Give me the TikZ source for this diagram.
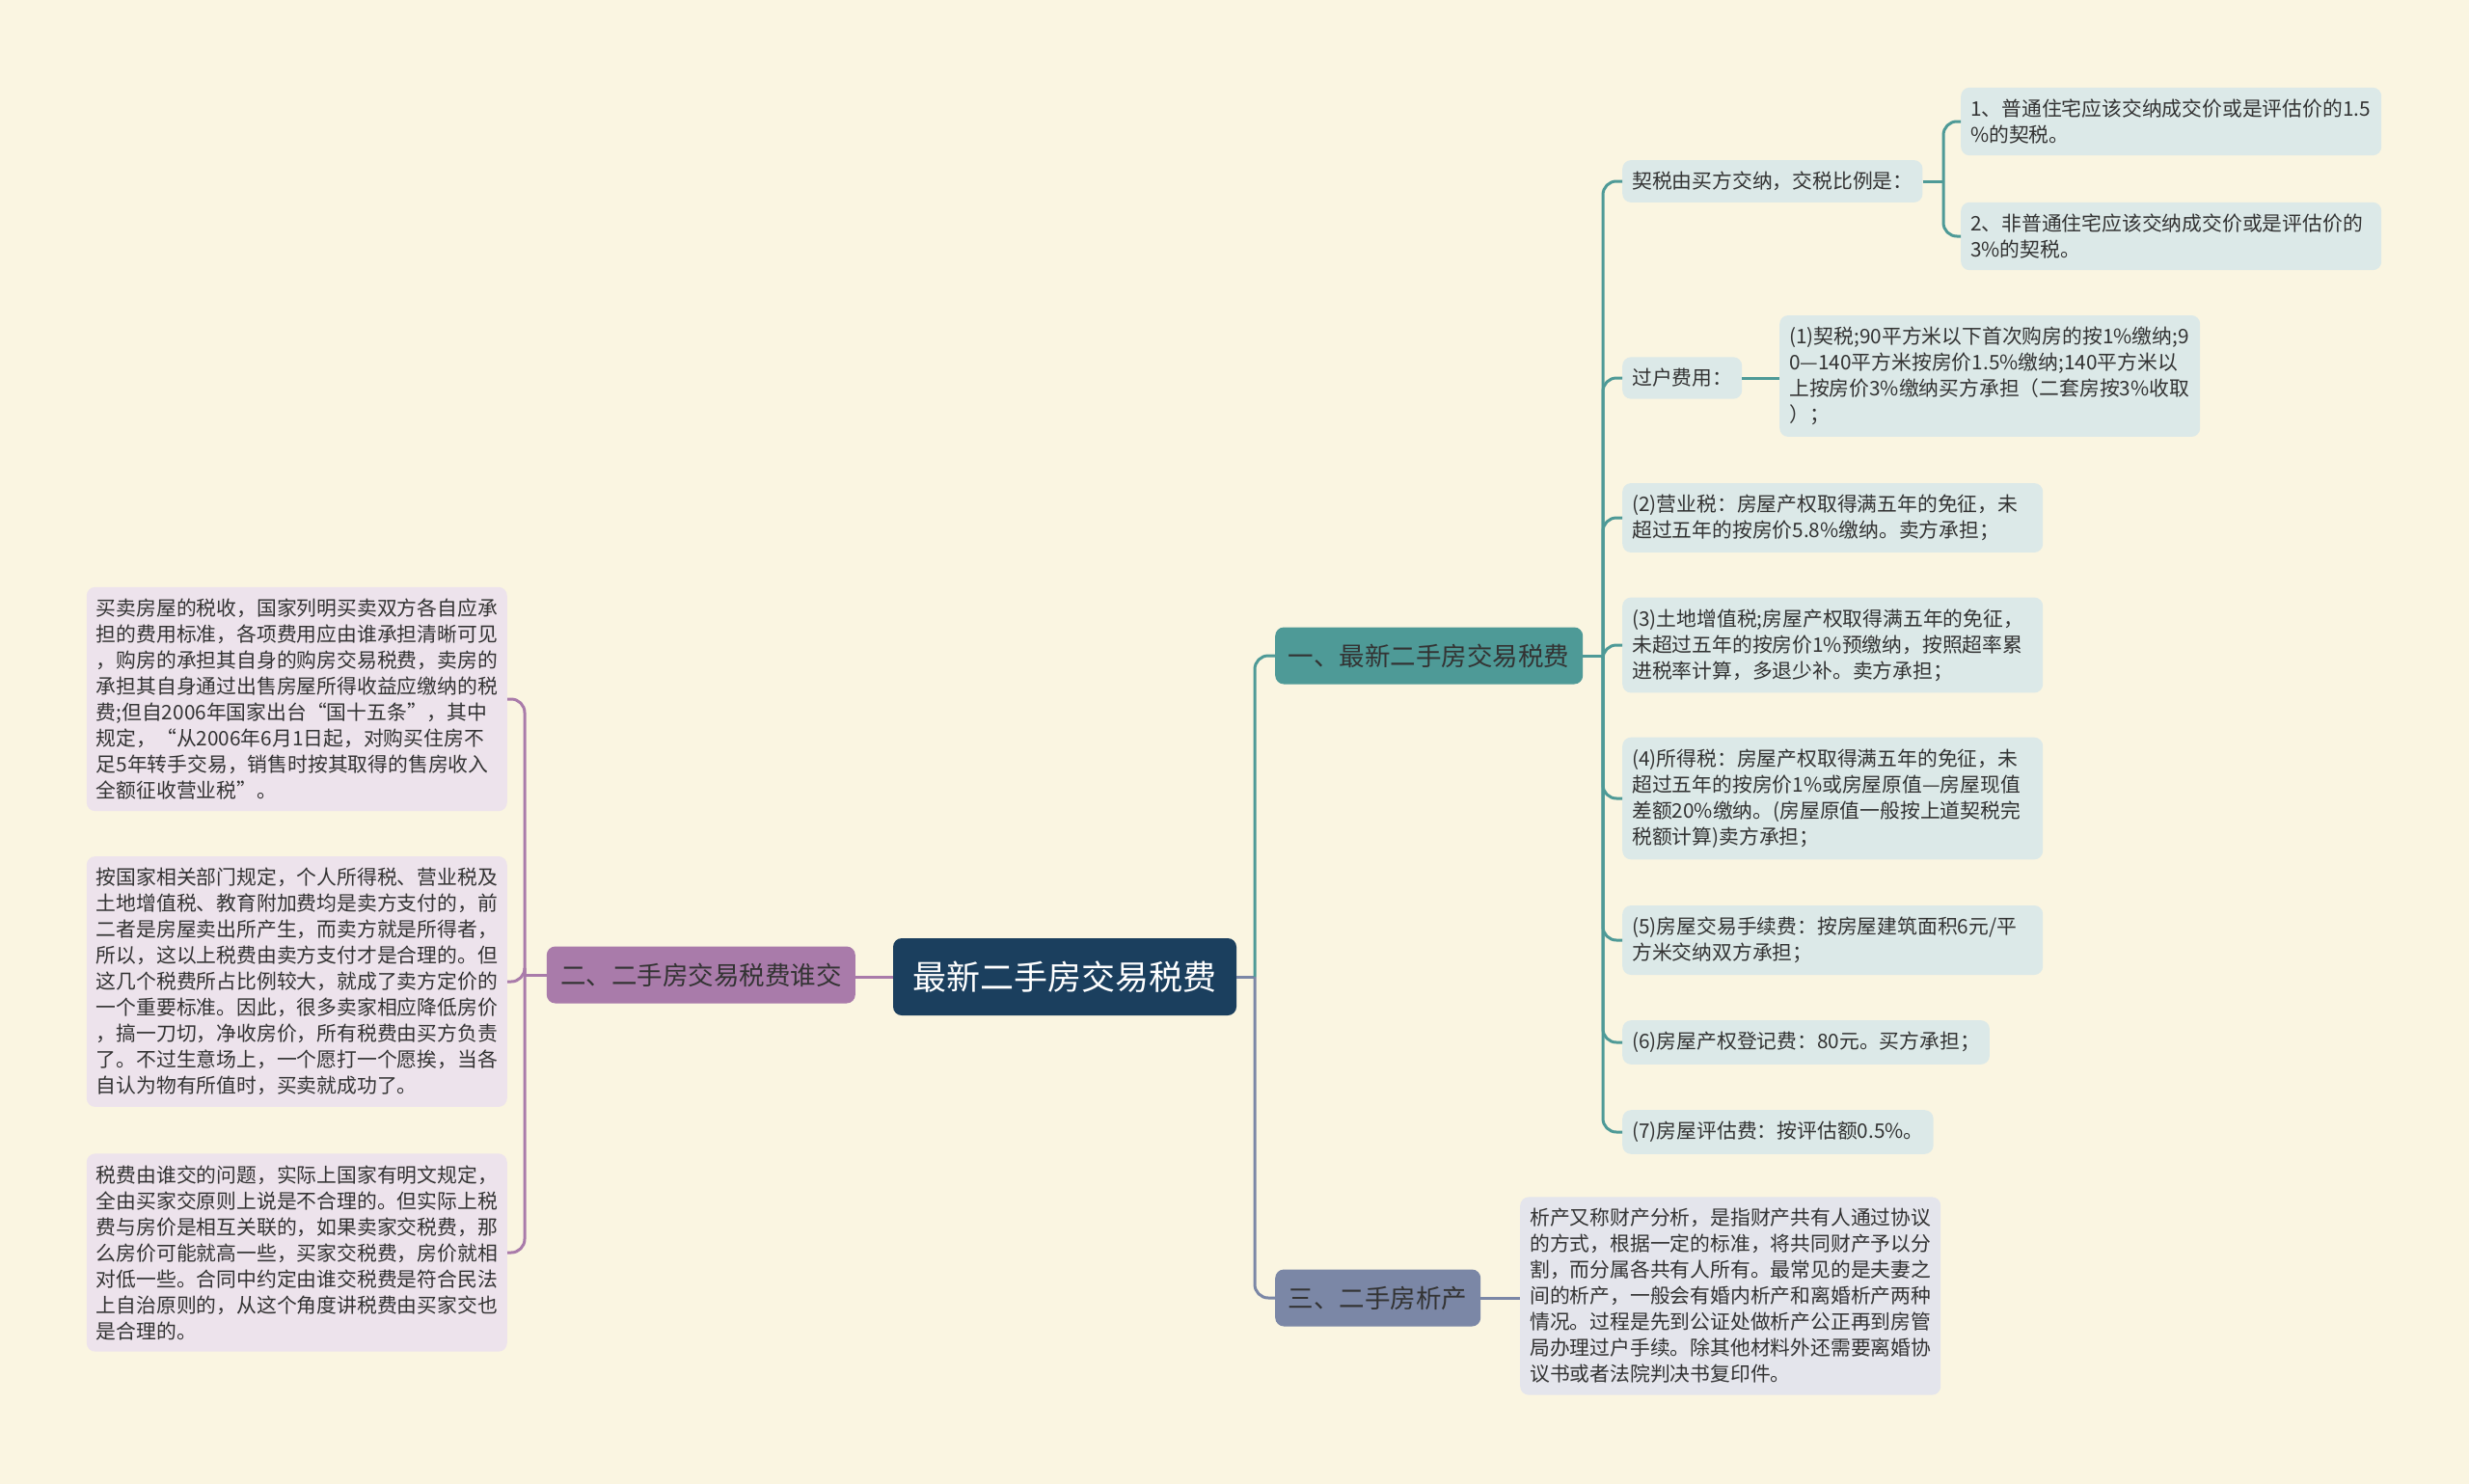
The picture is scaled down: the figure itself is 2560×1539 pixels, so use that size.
\documentclass[tikz,border=0pt]{standalone}
\usepackage{fontspec}
\newfontfamily\cjk{Noto Sans CJK SC}
\usepackage{tikz}

\definecolor{bgcol}{HTML}{FAF5E1}
\definecolor{rootcol}{HTML}{1B3F5E}
\definecolor{tealcol}{HTML}{4E9A97}
\definecolor{plumcol}{HTML}{A97BAA}
\definecolor{slatecol}{HTML}{7B87A6}
\definecolor{leafblue}{HTML}{DCE9E8}
\definecolor{leafplum}{HTML}{EDE3EC}
\definecolor{leafslate}{HTML}{E4E5EC}
\definecolor{inkcol}{HTML}{333333}

\tikzset{
  root/.style={rounded corners=9pt, fill=rootcol, text=white, font=\cjk\fontsize{35}{40}\selectfont, minimum width=356pt, minimum height=80pt},
  branch/.style={rounded corners=9pt, text=inkcol, font=\cjk\fontsize{26.5}{30}\selectfont, minimum height=59pt},
  leaf/.style={rounded corners=9pt, fill=leafblue, text=inkcol, font=\cjk\fontsize{20.8}{27}\selectfont, align=left, inner xsep=10pt, inner ysep=12pt},
  wideleaf/.style={leaf, text width=416pt},
  link/.style={line width=3pt, rounded corners=14pt}
}

\begin{document}
\begin{tikzpicture}[x=1pt,y=-1pt]
\useasboundingbox (0,0) rectangle (2560,1539);
\fill[bgcol] (0,0) rectangle (2560,1539);

\node[root] (root) at (1104,1013) {最新二手房交易税费};

\node[branch, fill=tealcol, minimum width=319pt, anchor=west] (fees) at (1322,680) {一、最新二手房交易税费};
\node[branch, fill=plumcol, minimum width=320pt, anchor=east] (who) at (887,1011) {二、二手房交易税费谁交};
\node[branch, fill=slatecol, minimum width=213pt, anchor=west] (split) at (1322,1346) {三、二手房析产};

% first branch
\node[leaf, anchor=west] (deed) at (1682,188) {契税由买方交纳，交税比例是：};
\node[wideleaf, anchor=west] (deedA) at (2033,126) {1、普通住宅应该交纳成交价或是评估价的1.5\\\%的契税。};
\node[wideleaf, anchor=west] (deedB) at (2033,245) {2、非普通住宅应该交纳成交价或是评估价的\\3\%的契税。};
\node[leaf, anchor=west] (transfer) at (1682,392) {过户费用：};
\node[wideleaf, anchor=west] (transferA) at (1845,390) {(1)契税;90平方米以下首次购房的按1\%缴纳;9\\0—140平方米按房价1.5\%缴纳;140平方米以\\上按房价3\%缴纳买方承担（二套房按3\%收取\\）；};
\node[wideleaf, anchor=west] (biz) at (1682,537) {(2)营业税：房屋产权取得满五年的免征，未\\超过五年的按房价5.8\%缴纳。卖方承担；};
\node[wideleaf, anchor=west] (land) at (1682,669) {(3)土地增值税;房屋产权取得满五年的免征，\\未超过五年的按房价1\%预缴纳，按照超率累\\进税率计算，多退少补。卖方承担；};
\node[wideleaf, anchor=west] (income) at (1682,828) {(4)所得税：房屋产权取得满五年的免征，未\\超过五年的按房价1\%或房屋原值—房屋现值\\差额20\%缴纳。(房屋原值一般按上道契税完\\税额计算)卖方承担；};
\node[wideleaf, anchor=west] (handling) at (1682,975) {(5)房屋交易手续费：按房屋建筑面积6元/平\\方米交纳双方承担；};
\node[leaf, anchor=west] (register) at (1682,1081) {(6)房屋产权登记费：80元。买方承担；};
\node[leaf, anchor=west] (assess) at (1682,1174) {(7)房屋评估费：按评估额0.5\%。};

% second branch
\node[wideleaf, fill=leafplum, anchor=east] (whoA) at (526,725) {买卖房屋的税收，国家列明买卖双方各自应承\\担的费用标准，各项费用应由谁承担清晰可见\\，购房的承担其自身的购房交易税费，卖房的\\承担其自身通过出售房屋所得收益应缴纳的税\\费;但自2006年国家出台“国十五条”，其中\\规定，“从2006年6月1日起，对购买住房不\\足5年转手交易，销售时按其取得的售房收入\\全额征收营业税”。};
\node[wideleaf, fill=leafplum, anchor=east] (whoB) at (526,1018) {按国家相关部门规定，个人所得税、营业税及\\土地增值税、教育附加费均是卖方支付的，前\\二者是房屋卖出所产生，而卖方就是所得者，\\所以，这以上税费由卖方支付才是合理的。但\\这几个税费所占比例较大，就成了卖方定价的\\一个重要标准。因此，很多卖家相应降低房价\\，搞一刀切，净收房价，所有税费由买方负责\\了。不过生意场上，一个愿打一个愿挨，当各\\自认为物有所值时，买卖就成功了。};
\node[wideleaf, fill=leafplum, anchor=east] (whoC) at (526,1299) {税费由谁交的问题，实际上国家有明文规定，\\全由买家交原则上说是不合理的。但实际上税\\费与房价是相互关联的，如果卖家交税费，那\\么房价可能就高一些，买家交税费，房价就相\\对低一些。合同中约定由谁交税费是符合民法\\上自治原则的，从这个角度讲税费由买家交也\\是合理的。};

% third branch
\node[wideleaf, fill=leafslate, anchor=west] (splitA) at (1576,1344) {析产又称财产分析，是指财产共有人通过协议\\的方式，根据一定的标准，将共同财产予以分\\割，而分属各共有人所有。最常见的是夫妻之\\间的析产，一般会有婚内析产和离婚析产两种\\情况。过程是先到公证处做析产公正再到房管\\局办理过户手续。除其他材料外还需要离婚协\\议书或者法院判决书复印件。};

\coordinate (rootfork) at (1301,1013);
\coordinate (feesfork) at (1662,680);
\coordinate (deedfork) at (2015,188);
\coordinate (whofork) at (544,1011);

\draw[link, slatecol] (root.east) -- (rootfork);
\draw[link, tealcol] (rootfork) |- (fees.west);
\draw[link, slatecol] (rootfork) |- (split.west);
\draw[link, plumcol] (root.west) -- (root.west -| who.east);

\draw[link, tealcol] (fees.east) -- (feesfork);
\foreach \leafname in {deed,transfer,biz,land,income,handling,register,assess}
  \draw[link, tealcol] (feesfork) |- (\leafname.west);
\draw[link, tealcol] (deed.east) -- (deedfork);
\foreach \leafname in {deedA,deedB}
  \draw[link, tealcol] (deedfork) |- (\leafname.west);
\draw[link, tealcol] (transfer.east) -- (transfer.east -| transferA.west);

\draw[link, plumcol] (who.west) -- (whofork);
\foreach \leafname in {whoA,whoB,whoC}
  \draw[link, plumcol] (whofork) |- (\leafname.east);

\draw[link, slatecol] (split.east) -- (split.east -| splitA.west);
\end{tikzpicture}
\end{document}
